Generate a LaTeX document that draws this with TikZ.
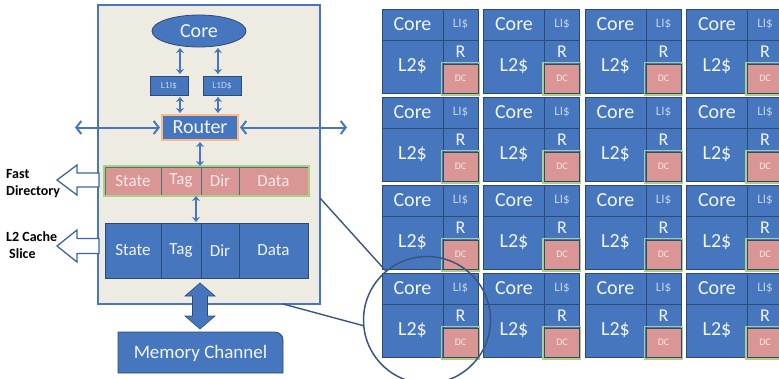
\documentclass[tikz,border=0pt]{standalone}
\usepackage{fontspec}
\setmainfont{Carlito}
\usetikzlibrary{shapes.geometric,arrows.meta,calc}

\definecolor{cblue}{RGB}{70,118,190}
\definecolor{cdark}{RGB}{44,74,115}
\definecolor{cpink}{RGB}{217,150,148}
\definecolor{cbeige}{RGB}{238,236,226}
\definecolor{cgreen}{RGB}{170,208,130}
\definecolor{corange}{RGB}{248,186,140}
\definecolor{ctext}{RGB}{242,246,252}
\definecolor{cltext}{RGB}{196,212,236}
\definecolor{cline}{RGB}{58,86,126}
\definecolor{cfast}{RGB}{250,232,232}

\tikzset{
  cell/.style={draw=cdark, line width=0.8pt, fill=cblue, inner sep=0pt, outer sep=0pt,
               anchor=north west, text=ctext, font=\fontsize{20}{24}\selectfont},
  dccell/.style={cell, fill=cpink, text=cfast, font=\fontsize{10}{11}\selectfont},
  dcframe/.style={draw=cgreen, line width=1.4pt},
  box/.style={draw=cdark, line width=0.8pt, fill=cblue, inner sep=0pt, outer sep=0pt,
              text=ctext},
  fastcell/.style={draw=cdark!70!cgreen, line width=0.8pt, fill=cpink, inner sep=0pt, outer sep=0pt,
                   anchor=north west, minimum height=28, text=cfast, font=\fontsize{17}{20}\selectfont},
  slicecell/.style={cell, minimum height=55, font=\fontsize{17}{20}\selectfont},
  dblarrow/.style={cblue, line width=1.6pt, {Stealth[length=5pt,width=8pt]}-{Stealth[length=5pt,width=8pt]}},
  harrow/.style={cblue, line width=2pt, {Straight Barb[length=5pt,width=13pt]}-{Straight Barb[length=5pt,width=13pt]}},
  hollow/.style={draw=cblue!85!black, line width=1.3pt, fill=white, line join=miter},
  bigarrow/.style={draw=cdark, line width=0.6pt, fill=cblue},
  lbl/.style={font=\bfseries\fontsize{14}{18}\selectfont, inner sep=0pt, align=left, anchor=west},
  zline/.style={draw=cline, line width=1.4pt},
}

\begin{document}
\begin{tikzpicture}[x=1pt,y=-1pt]
\useasboundingbox (0,0) rectangle (779,378);
\clip (0,0) rectangle (779,378);

% ---- 4x4 array of tiles ----
\foreach \c in {0,...,3}{
  \foreach \r in {0,...,3}{
    \pgfmathsetmacro\tx{382+101.5*\c}
    \pgfmathsetmacro\ty{9+88*\r}
    \node[cell, minimum width=61, minimum height=31] (core\c\r) at (\tx,\ty) {Core};
    \node[cell, minimum width=35, minimum height=31, text=cltext,
          font=\fontsize{13}{14}\selectfont] (lone\c\r) at (\tx+61,\ty) {LI\$};
    \node[cell, minimum width=61, minimum height=53] (ltwo\c\r) at (\tx,\ty+31) {L2\$};
    \node[cell, minimum width=35, minimum height=24,
          font=\fontsize{18}{20}\selectfont] (rt\c\r) at (\tx+61,\ty+31) {R};
    \draw[dcframe] (\tx+59.5,\ty+53.5) rectangle (\tx+97,\ty+86);
    \node[dccell, minimum width=35, minimum height=29] (dc\c\r) at (\tx+61,\ty+55) {DC};
  }
}

% ---- magnified tile panel ----
\node[draw=cblue, line width=1.5pt, fill=cbeige, minimum width=222, minimum height=299,
      anchor=north west, inner sep=0pt, outer sep=0pt] (panel) at (98,5) {};

\node[ellipse, box, minimum width=94, minimum height=32,
      font=\fontsize{20}{24}\selectfont] (core) at (199,31) {Core};

\node[box, minimum width=38, minimum height=19, text=cltext,
      font=\fontsize{9.5}{10}\selectfont] (lonei) at (169,85.5) {L1I\$};
\node[box, minimum width=38, minimum height=19, text=cltext,
      font=\fontsize{9.5}{10}\selectfont] (loned) at (222,85.5) {L1D\$};

\node[box, draw=corange, line width=2pt, minimum width=76, minimum height=25,
      font=\fontsize{20}{24}\selectfont] (router) at (200,127.5) {Router};

% fast directory row
\node[fastcell, minimum width=56] (fs) at (105,167) {State};
\node[fastcell, minimum width=40] (ft) at (161,167) {Tag};
\node[fastcell, minimum width=38] (fd) at (201,167) {Dir};
\node[fastcell, minimum width=69] (fda) at (239,167) {Data};
\draw[draw=cgreen, line width=1.4pt] ([shift={(-1pt,1pt)}]fs.north west) rectangle ([shift={(1pt,-1pt)}]fda.south east);

% L2 cache slice row
\node[slicecell, minimum width=56] (ls) at (105,223) {State};
\node[slicecell, minimum width=40] (lt) at (161,223) {Tag};
\node[slicecell, minimum width=38] (ld) at (201,223) {Dir};
\node[slicecell, minimum width=69] (lda) at (239,223) {Data};

% memory channel
\path[fill=cblue, draw=cdark, line width=0.8pt]
  (118,373) -- (118,332) -- (275,332) arc[start angle=90, end angle=0, radius=8pt]
  -- (283,373) -- cycle;
\node[inner sep=0pt, text=ctext, font=\fontsize{19}{22}\selectfont] (mem) at (200.5,353) {Memory Channel};

% ---- connectors inside the panel ----
\draw[dblarrow, shorten <=2pt, shorten >=1pt] ([xshift=11pt]lonei.north) -- ([xshift=11pt]lonei.north |- core.south);
\draw[dblarrow, shorten <=2pt, shorten >=1pt] ([xshift=-4pt]loned.north) -- ([xshift=-4pt]loned.north |- core.south);
\draw[dblarrow, shorten <=2pt, shorten >=2pt] ([xshift=11pt]lonei.south) -- ([xshift=11pt]lonei.south |- router.north);
\draw[dblarrow, shorten <=2pt, shorten >=2pt] ([xshift=-4pt]loned.south) -- ([xshift=-4pt]loned.south |- router.north);

\coordinate (wend) at (75,127.5);
\coordinate (eend) at (347,127.5);
\draw[harrow, shorten <=2pt] (router.west) -- (wend);
\draw[harrow, shorten <=2pt] (router.east) -- (eend);

\draw[dblarrow, shorten <=2pt, shorten >=1pt] (router.south) -- (router.south |- fs.north);
\draw[dblarrow, shorten <=1pt, shorten >=1pt] ([xshift=-4pt]router.south |- ft.south) -- ([xshift=-4pt]router.south |- lt.north);

% wide double arrow to the memory channel
\coordinate (mt) at (200,283);
\draw[bigarrow] (mt) -- ++(15,13) -- ++(-7.5,0) -- ++(0,20) -- ++(7.5,0) -- ++(-15,13)
  -- ++(-15,-13) -- ++(7.5,0) -- ++(0,-20) -- ++(-7.5,0) -- cycle;

% ---- side labels with hollow arrows ----
\coordinate (fasttip) at (57,180);
\draw[hollow] (fasttip) -- ++(20,-15) -- ++(0,8) -- ++(22,0) -- ++(0,14) -- ++(-22,0) -- ++(0,8) -- cycle;
\node[lbl] (fastlbl) at (6,184) {Fast\\[-1pt]Directory};

\coordinate (slicetip) at (57,246);
\draw[hollow] (slicetip) -- ++(20,-16) -- ++(0,8.5) -- ++(22,0) -- ++(0,15) -- ++(-22,0) -- ++(0,8.5) -- cycle;
\node[lbl] (slicelbl) at (6,245) {L2 Cache\\[-1pt]\hspace{3pt}Slice};

% ---- magnifier circle ----
\node[circle, draw=cline, line width=1.5pt, minimum size=127, inner sep=0pt] (zoom) at (427,320) {};
\draw[zline] ([yshift=-43.5pt]panel.east) -- (zoom.130);
\draw[zline] ([xshift=-37pt]panel.south east) -- (zoom.185);
\end{tikzpicture}
\end{document}
